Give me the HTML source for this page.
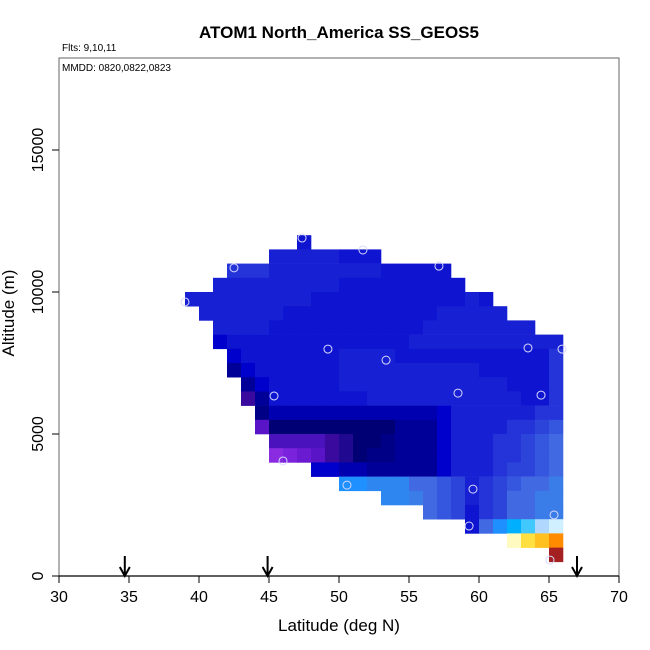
<!DOCTYPE html>
<html><head><meta charset="utf-8"><style>
body{margin:0;background:#fff}
svg{display:block;font-family:"Liberation Sans",sans-serif}
</style></head><body>
<svg id="chart" width="650" height="650" viewBox="0 0 650 650">
<text x="339" y="38" text-anchor="middle" font-size="17" font-weight="bold">ATOM1 North_America SS_GEOS5</text>
<text x="62" y="51" font-size="10">Flts: 9,10,11</text>
<g id="cells"></g>
<g id="points"></g>
<rect x="59" y="58" width="560" height="518" fill="none" stroke="#666" stroke-width="1"/>
<text x="62" y="71" font-size="10">MMDD: 0820,0822,0823</text>
<line x1="59" y1="576" x2="619" y2="576" stroke="#000" stroke-width="1.2"/>
<g id="xaxis"></g>
<g id="yaxis"></g>
<g id="arrows"></g>
<text x="339" y="631" text-anchor="middle" font-size="17">Latitude (deg N)</text>
<text transform="translate(14,313) rotate(-90)" text-anchor="middle" font-size="17">Altitude (m)</text>
</svg>
<script>
// Data
const xTicks=[30,35,40,45,50,55,60,65,70];
const yTicks=[0,5000,10000,15000];
// rows: [altitude bin index (500 m), start latitude, cell codes]
const rowBins=[23,22,21,20,19,18,17,16,15,14,13,12,11,10,9,8,7,6,5,4,3,2,1];
const rowStarts=[47,45,42,41,39,40,41,41,42,42,43,43,44,44,45,45,48,50,53,56,59,62,65];
const rowCodes=[
"b",
"cccccbbb",
"eeeccccccccbbbbb",
"cccccccccbbbbbbbbb",
"cccccccccbbbbbbbbbbbcb",
"ccccccbbbbbbbbbbbccccc",
"ccccbbbbbbbbbbbcccccccc",
"Dbbbbbbbbbbbbbccccccccccc",
"Dbbbbbbbccccbbbbbbbbbbbe",
"nDbbbbbbccccccccccbbbbbe",
"nDbbbbbccccccccccccbbbe",
"snbbbbbbbcccccccccccbbe",
"NddddddddddddDcccccceef".slice(0,22),
"pmmmmmmmmmnnnDcccceefg",
"qqqqstmmNnnnDccceefgh",
"rvwpstmNNnnnDccceefgh",
"DDddnnnnnDccceffgh".slice(0,18),
"kkjjjhhgfcefghhi",
"jjihgfcefhhii",
"hgfbefhhii",
"bhkLMOP",
"yYox",
"R"];
const palette={b:"#0e14cf",c:"#1820d3",e:"#2434d8",f:"#2c44da",g:"#3556de",h:"#4169e1",i:"#3a7ce8",j:"#2e86f0",k:"#1e90ff",
D:"#0000cc",d:"#0000b0",n:"#000099",N:"#000086",m:"#000074",p:"#5a14c8",q:"#4a12bc",s:"#3a0a9e",t:"#200890",
r:"#8a2be2",v:"#7a22dc",w:"#6a1ad0",L:"#00b0ff",M:"#40c8ff",O:"#b0d8ff",P:"#d0f0ff",y:"#fffbc0",Y:"#ffe040",o:"#ffc020",x:"#ff8c00",R:"#a52020"};
const ptLat=[47.36,51.71,42.5,57.14,39.0,49.21,53.36,63.5,65.93,45.36,58.5,64.43,46.0,50.57,59.57,59.29,65.36,65.07];
const ptAlt=[11900,11480,10850,10910,9650,7990,7600,8030,7990,6340,6440,6370,4050,3200,3060,1760,2150,560];
const arrowLats=[34.7,44.9,67.0];

const NS="http://www.w3.org/2000/svg";
const X=v=>59+(v-30)*14;
const Y=v=>576-v*0.0284;
function mk(tag,attrs,parent){const e=document.createElementNS(NS,tag);for(const k in attrs)e.setAttribute(k,attrs[k]);parent.appendChild(e);return e;}

const cells=document.getElementById('cells');
rowBins.forEach((bin,ri)=>{
  const codes=rowCodes[ri];
  for(let i=0;i<codes.length;i++){
    const lat=rowStarts[ri]+i;
    const x0=X(lat),x1=X(lat+1),y0=Y((bin+1)*500),y1=Y(bin*500);
    const r=mk('rect',{x:x0,y:y0,width:x1-x0+0.3,height:y1-y0+0.3,fill:palette[codes[i]]||"#1820d3"},cells);
    
    
  }
});
const pts=document.getElementById('points');
ptLat.forEach((la,i)=>{
  const c=mk('circle',{cx:X(la),cy:Y(ptAlt[i]),r:4,fill:"none",stroke:"#d8d8ff","stroke-width":1},pts);
  
  
});
const xa=document.getElementById('xaxis');
xTicks.forEach(t=>{
  const l=mk('line',{x1:X(t),y1:576,x2:X(t),y2:583,stroke:"#000"},xa);
  
  
  const tx=mk('text',{x:X(t),y:602,"text-anchor":"middle","font-size":16},xa);
  
  
  tx.textContent=t;
});
const ya=document.getElementById('yaxis');
yTicks.forEach(t=>{
  const l=mk('line',{x1:52,y1:Y(t),x2:59,y2:Y(t),stroke:"#000"},ya);
  
  
  const tx=mk('text',{transform:`translate(43,${Y(t)}) rotate(-90)`,"text-anchor":"middle","font-size":16},ya);
  
  
  tx.textContent=t;
});
const ar=document.getElementById('arrows');
arrowLats.forEach(la=>{
  const x=X(la);
  const p=mk('path',{d:`M${x},556 L${x},575 M${x-5},567 L${x},576 L${x+5},567`,stroke:"#000","stroke-width":2,fill:"none"},ar);
  
  
});
</script>
</body></html>
